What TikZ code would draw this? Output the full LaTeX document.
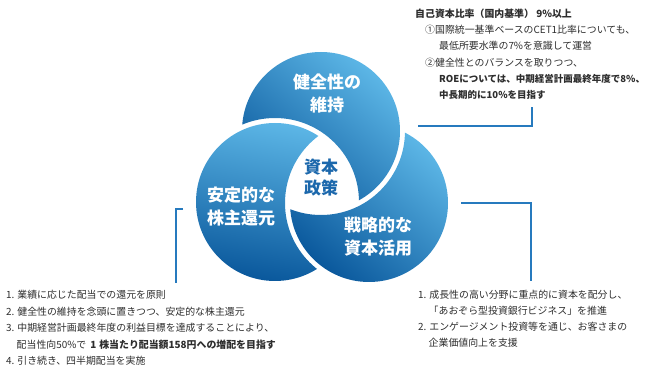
\documentclass[tikz,border=0pt]{standalone}
\usepackage{fontspec}
\setmainfont{Noto Sans CJK JP}
\usepackage{tikz}
\usetikzlibrary{positioning}
\definecolor{bleuFonce}{RGB}{10,88,156}
\definecolor{bleuClair}{RGB}{92,182,230}
\definecolor{bleuTrait}{RGB}{38,122,190}
\definecolor{bleuTexte}{RGB}{28,104,172}
\definecolor{grisTexte}{RGB}{45,45,45}

\tikzset{
  etiquette/.style={align=center, text=white, font=\fontsize{17}{23}\selectfont\bfseries},
  bloc/.style={align=left, anchor=north west, inner sep=0pt, text=grisTexte},
  renvoi/.style={draw=bleuTrait, line width=1.2pt}
}

\begin{document}
\begin{tikzpicture}[x=1pt,y=1pt]
\useasboundingbox (0,0) rectangle (648,375);

\coordinate (cHaut) at (321,244);
\coordinate (cGauche) at (275,173);
\coordinate (cDroite) at (369,172);

% trois cercles en moulinet
\begin{scope}[even odd rule]
  \clip (0,0) rectangle (648,375) (cGauche) circle (84);
  \shade[top color=bleuClair, bottom color=bleuFonce, shading angle=-40] (cHaut) circle (79);
\end{scope}
\begin{scope}[even odd rule]
  \clip (0,0) rectangle (648,375) (cDroite) circle (84);
  \shade[top color=bleuClair, bottom color=bleuFonce, shading angle=-10] (cGauche) circle (79);
\end{scope}
\begin{scope}[even odd rule]
  \clip (0,0) rectangle (648,375) (cHaut) circle (84);
  \shade[top color=bleuClair, bottom color=bleuFonce, shading angle=-40] (cDroite) circle (79);
\end{scope}

\node[etiquette] (sante) at (327,281) {健全性の\\維持};
\node[etiquette] (retour) at (241,168) {安定的な\\株主還元};
\node[etiquette] (strategie) at (378,138) {戦略的な\\資本活用};
\node[align=center, text=bleuTexte, font=\fontsize{17}{21}\selectfont\bfseries] (politique) at (321,197) {資本\\政策};

% textes
\node[bloc, font=\fontsize{9.9}{16.3}\selectfont] (texteHaut) at (415,366.6) {%
  \textbf{自己資本比率（国内基準） 9\%以上}\\
  \hspace*{10pt}①国際統一基準ベースのCET1比率についても、\\
  \hspace*{24pt}最低所要水準の7\%を意識して運営\\
  \hspace*{10pt}②健全性とのバランスを取りつつ、\\
  \hspace*{24pt}{\fontsize{9.5}{16.3}\selectfont\bfseries ROEについては、中期経営計画最終年度で8\%、}\\
  \hspace*{24pt}{\fontsize{9.5}{16.3}\selectfont\bfseries 中長期的に10\%を目指す}};

\node[bloc, font=\fontsize{9.9}{16.5}\selectfont] (texteGauche) at (6,84.6) {%
  1. 業績に応じた配当での還元を原則\\
  2. 健全性の維持を念頭に置きつつ、安定的な株主還元\\
  3. 中期経営計画最終年度の利益目標を達成することにより、\\
  \hspace*{10.5pt}配当性向50\%で\hspace{4pt}\textbf{1\hspace{3pt}株当たり配当額158円への増配を目指す}\\
  4. 引き続き、四半期配当を実施};

\node[bloc, font=\fontsize{9.9}{16}\selectfont] (texteDroite) at (418,84.6) {%
  1. 成長性の高い分野に重点的に資本を配分し、\\
  \hspace*{10.5pt}「あおぞら型投資銀行ビジネス」を推進\\
  2. エンゲージメント投資等を通じ、お客さまの\\
  \hspace*{10.5pt}企業価値向上を支援};

% traits de renvoi
\coordinate (rh1) at (418,249);
\coordinate (rh2) at (532,249);
\coordinate (rh3) at (532,268);
\draw[renvoi] (rh1) -- (rh2) -- (rh3);

\coordinate (rd1) at (461,172);
\coordinate (rd2) at (531,172);
\coordinate (rd3) at (531,94);
\draw[renvoi] (rd1) -- (rd2) -- (rd3);

\coordinate (rg1) at (183,166);
\coordinate (rg2) at (176,166);
\coordinate (rg3) at (176,92);
\draw[renvoi] (rg1) -- (rg2) -- (rg3);

\end{tikzpicture}
\end{document}
